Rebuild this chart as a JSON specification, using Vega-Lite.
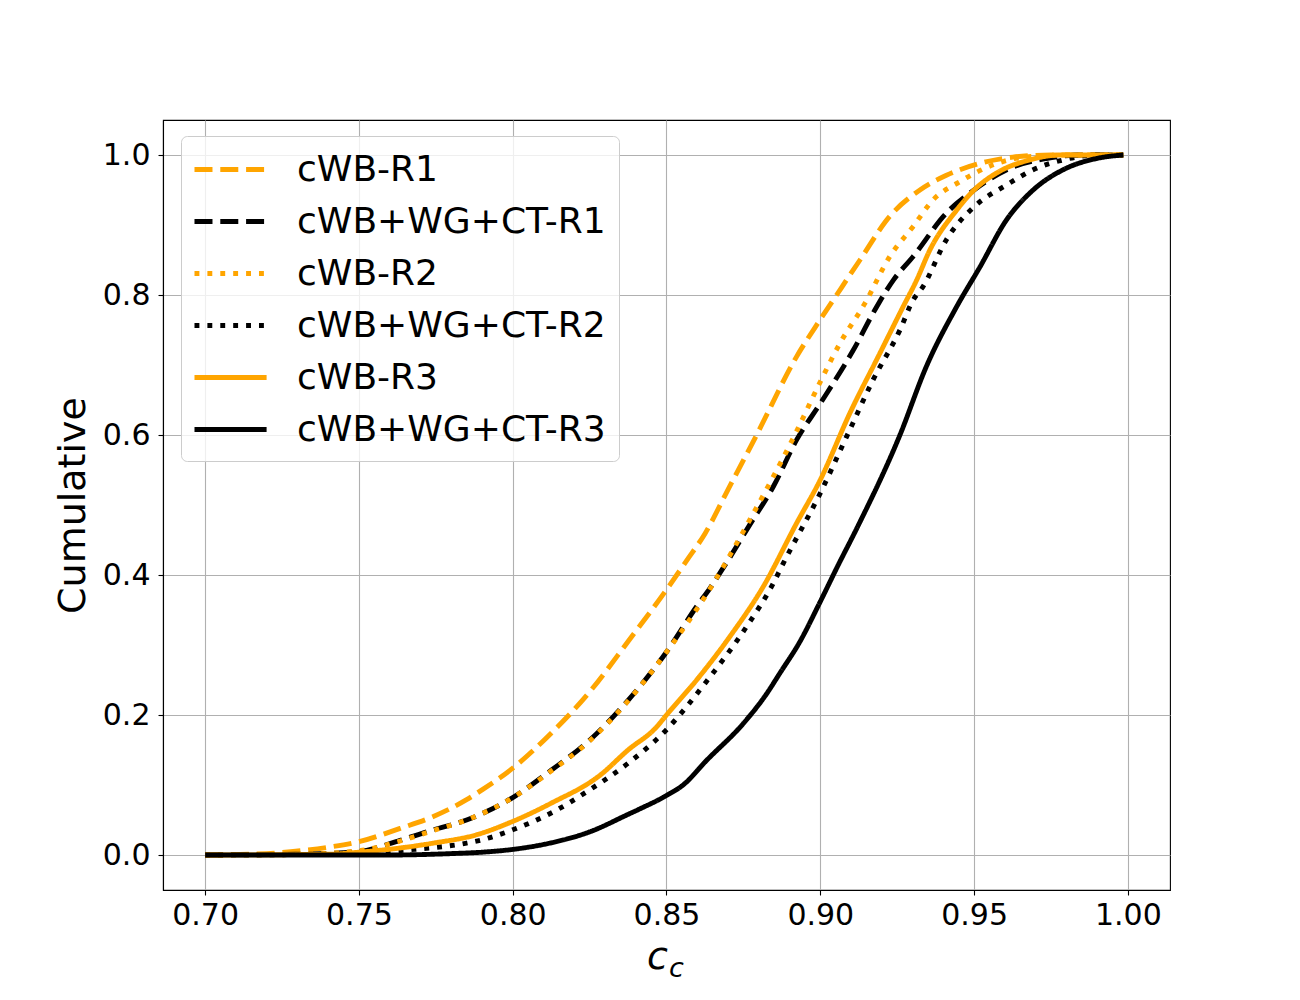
{
  "$schema": "https://vega.github.io/schema/vega-lite/v6.json",
  "description": "Cumulative distributions of c_c for cWB and cWB+WG+CT, runs R1-R3",
  "autosize": {"type": "none"},
  "width": 1007,
  "height": 770,
  "padding": {"left": 163, "top": 120, "right": 130, "bottom": 110},
  "background": "white",
  "title": {
    "text": "c",
    "orient": "bottom",
    "anchor": "middle",
    "font": "DejaVu Sans",
    "fontSize": 27,
    "fontStyle": "italic",
    "fontWeight": "normal",
    "color": "black",
    "dx": 10,
    "offset": -20
  },
  "config": {
    "font": "DejaVu Sans",
    "view": {"stroke": "black", "strokeWidth": 1.1},
    "axis": {
      "domainColor": "black",
      "domainWidth": 1.1,
      "tickColor": "black",
      "tickWidth": 1.1,
      "tickSize": 5,
      "gridColor": "#b0b0b0",
      "gridWidth": 1.1,
      "labelFont": "DejaVu Sans",
      "labelFontSize": 30,
      "labelColor": "black",
      "labelPadding": 5,
      "titleFont": "DejaVu Sans",
      "titleFontSize": 38,
      "titleFontWeight": "normal",
      "titleColor": "black"
    }
  },
  "data": {
    "values": [
      {"series": "cWB-R1", "cc": 0.700, "cum": 0.0},
      {"series": "cWB-R1", "cc": 0.720, "cum": 0.002},
      {"series": "cWB-R1", "cc": 0.731, "cum": 0.006},
      {"series": "cWB-R1", "cc": 0.740, "cum": 0.011},
      {"series": "cWB-R1", "cc": 0.750, "cum": 0.019},
      {"series": "cWB-R1", "cc": 0.7634, "cum": 0.038},
      {"series": "cWB-R1", "cc": 0.7742, "cum": 0.055},
      {"series": "cWB-R1", "cc": 0.785, "cum": 0.079},
      {"series": "cWB-R1", "cc": 0.790, "cum": 0.093},
      {"series": "cWB-R1", "cc": 0.800, "cum": 0.124},
      {"series": "cWB-R1", "cc": 0.8125, "cum": 0.174},
      {"series": "cWB-R1", "cc": 0.825, "cum": 0.233},
      {"series": "cWB-R1", "cc": 0.8375, "cum": 0.305},
      {"series": "cWB-R1", "cc": 0.850, "cum": 0.379},
      {"series": "cWB-R1", "cc": 0.8566, "cum": 0.421},
      {"series": "cWB-R1", "cc": 0.8625, "cum": 0.459},
      {"series": "cWB-R1", "cc": 0.870, "cum": 0.522},
      {"series": "cWB-R1", "cc": 0.8793, "cum": 0.600},
      {"series": "cWB-R1", "cc": 0.8923, "cum": 0.712},
      {"series": "cWB-R1", "cc": 0.900, "cum": 0.765},
      {"series": "cWB-R1", "cc": 0.9053, "cum": 0.800},
      {"series": "cWB-R1", "cc": 0.9129, "cum": 0.850},
      {"series": "cWB-R1", "cc": 0.9225, "cum": 0.912},
      {"series": "cWB-R1", "cc": 0.9324, "cum": 0.950},
      {"series": "cWB-R1", "cc": 0.941, "cum": 0.971},
      {"series": "cWB-R1", "cc": 0.9519, "cum": 0.988},
      {"series": "cWB-R1", "cc": 0.9626, "cum": 0.997},
      {"series": "cWB-R1", "cc": 0.975, "cum": 1.0},
      {"series": "cWB-R1", "cc": 0.9985, "cum": 1.0},

      {"series": "cWB+WG+CT-R1", "cc": 0.700, "cum": 0.0},
      {"series": "cWB+WG+CT-R1", "cc": 0.730, "cum": 0.001},
      {"series": "cWB+WG+CT-R1", "cc": 0.750, "cum": 0.005},
      {"series": "cWB+WG+CT-R1", "cc": 0.7634, "cum": 0.021},
      {"series": "cWB+WG+CT-R1", "cc": 0.7742, "cum": 0.036},
      {"series": "cWB+WG+CT-R1", "cc": 0.785, "cum": 0.050},
      {"series": "cWB+WG+CT-R1", "cc": 0.7915, "cum": 0.062},
      {"series": "cWB+WG+CT-R1", "cc": 0.800, "cum": 0.082},
      {"series": "cWB+WG+CT-R1", "cc": 0.8125, "cum": 0.121},
      {"series": "cWB+WG+CT-R1", "cc": 0.825, "cum": 0.164},
      {"series": "cWB+WG+CT-R1", "cc": 0.8375, "cum": 0.221},
      {"series": "cWB+WG+CT-R1", "cc": 0.850, "cum": 0.290},
      {"series": "cWB+WG+CT-R1", "cc": 0.8598, "cum": 0.355},
      {"series": "cWB+WG+CT-R1", "cc": 0.8641, "cum": 0.381},
      {"series": "cWB+WG+CT-R1", "cc": 0.869, "cum": 0.414},
      {"series": "cWB+WG+CT-R1", "cc": 0.8771, "cum": 0.472},
      {"series": "cWB+WG+CT-R1", "cc": 0.8847, "cum": 0.526},
      {"series": "cWB+WG+CT-R1", "cc": 0.8923, "cum": 0.593},
      {"series": "cWB+WG+CT-R1", "cc": 0.900, "cum": 0.645},
      {"series": "cWB+WG+CT-R1", "cc": 0.9107, "cum": 0.721},
      {"series": "cWB+WG+CT-R1", "cc": 0.9183, "cum": 0.783},
      {"series": "cWB+WG+CT-R1", "cc": 0.9237, "cum": 0.821},
      {"series": "cWB+WG+CT-R1", "cc": 0.9302, "cum": 0.855},
      {"series": "cWB+WG+CT-R1", "cc": 0.941, "cum": 0.917},
      {"series": "cWB+WG+CT-R1", "cc": 0.950, "cum": 0.950},
      {"series": "cWB+WG+CT-R1", "cc": 0.9627, "cum": 0.983},
      {"series": "cWB+WG+CT-R1", "cc": 0.9735, "cum": 0.995},
      {"series": "cWB+WG+CT-R1", "cc": 0.985, "cum": 1.0},
      {"series": "cWB+WG+CT-R1", "cc": 0.9985, "cum": 1.0},

      {"series": "cWB-R2", "cc": 0.700, "cum": 0.0},
      {"series": "cWB-R2", "cc": 0.730, "cum": 0.001},
      {"series": "cWB-R2", "cc": 0.750, "cum": 0.006},
      {"series": "cWB-R2", "cc": 0.7634, "cum": 0.020},
      {"series": "cWB-R2", "cc": 0.7742, "cum": 0.035},
      {"series": "cWB-R2", "cc": 0.785, "cum": 0.050},
      {"series": "cWB-R2", "cc": 0.800, "cum": 0.082},
      {"series": "cWB-R2", "cc": 0.8125, "cum": 0.120},
      {"series": "cWB-R2", "cc": 0.825, "cum": 0.163},
      {"series": "cWB-R2", "cc": 0.8375, "cum": 0.220},
      {"series": "cWB-R2", "cc": 0.850, "cum": 0.290},
      {"series": "cWB-R2", "cc": 0.8641, "cum": 0.380},
      {"series": "cWB-R2", "cc": 0.8771, "cum": 0.479},
      {"series": "cWB-R2", "cc": 0.8917, "cum": 0.600},
      {"series": "cWB-R2", "cc": 0.900, "cum": 0.676},
      {"series": "cWB-R2", "cc": 0.9064, "cum": 0.731},
      {"series": "cWB-R2", "cc": 0.9145, "cum": 0.788},
      {"series": "cWB-R2", "cc": 0.9226, "cum": 0.855},
      {"series": "cWB-R2", "cc": 0.9302, "cum": 0.898},
      {"series": "cWB-R2", "cc": 0.9367, "cum": 0.936},
      {"series": "cWB-R2", "cc": 0.9454, "cum": 0.962},
      {"series": "cWB-R2", "cc": 0.9562, "cum": 0.986},
      {"series": "cWB-R2", "cc": 0.9686, "cum": 0.998},
      {"series": "cWB-R2", "cc": 0.980, "cum": 1.0},
      {"series": "cWB-R2", "cc": 0.9985, "cum": 1.0},

      {"series": "cWB+WG+CT-R2", "cc": 0.700, "cum": 0.0},
      {"series": "cWB+WG+CT-R2", "cc": 0.740, "cum": 0.001},
      {"series": "cWB+WG+CT-R2", "cc": 0.7655, "cum": 0.007},
      {"series": "cWB+WG+CT-R2", "cc": 0.785, "cum": 0.017},
      {"series": "cWB+WG+CT-R2", "cc": 0.7894, "cum": 0.021},
      {"series": "cWB+WG+CT-R2", "cc": 0.800, "cum": 0.036},
      {"series": "cWB+WG+CT-R2", "cc": 0.8125, "cum": 0.060},
      {"series": "cWB+WG+CT-R2", "cc": 0.825, "cum": 0.093},
      {"series": "cWB+WG+CT-R2", "cc": 0.8375, "cum": 0.131},
      {"series": "cWB+WG+CT-R2", "cc": 0.850, "cum": 0.179},
      {"series": "cWB+WG+CT-R2", "cc": 0.863, "cum": 0.248},
      {"series": "cWB+WG+CT-R2", "cc": 0.876, "cum": 0.326},
      {"series": "cWB+WG+CT-R2", "cc": 0.8847, "cum": 0.388},
      {"series": "cWB+WG+CT-R2", "cc": 0.888, "cum": 0.417},
      {"series": "cWB+WG+CT-R2", "cc": 0.900, "cum": 0.517},
      {"series": "cWB+WG+CT-R2", "cc": 0.9086, "cum": 0.598},
      {"series": "cWB+WG+CT-R2", "cc": 0.9172, "cum": 0.679},
      {"series": "cWB+WG+CT-R2", "cc": 0.9259, "cum": 0.750},
      {"series": "cWB+WG+CT-R2", "cc": 0.9302, "cum": 0.793},
      {"series": "cWB+WG+CT-R2", "cc": 0.9334, "cum": 0.812},
      {"series": "cWB+WG+CT-R2", "cc": 0.941, "cum": 0.879},
      {"series": "cWB+WG+CT-R2", "cc": 0.950, "cum": 0.926},
      {"series": "cWB+WG+CT-R2", "cc": 0.9605, "cum": 0.957},
      {"series": "cWB+WG+CT-R2", "cc": 0.9692, "cum": 0.979},
      {"series": "cWB+WG+CT-R2", "cc": 0.979, "cum": 0.993},
      {"series": "cWB+WG+CT-R2", "cc": 0.990, "cum": 1.0},
      {"series": "cWB+WG+CT-R2", "cc": 0.9985, "cum": 1.0},

      {"series": "cWB-R3", "cc": 0.700, "cum": 0.0},
      {"series": "cWB-R3", "cc": 0.740, "cum": 0.001},
      {"series": "cWB-R3", "cc": 0.750, "cum": 0.004},
      {"series": "cWB-R3", "cc": 0.7634, "cum": 0.010},
      {"series": "cWB-R3", "cc": 0.7742, "cum": 0.017},
      {"series": "cWB-R3", "cc": 0.7883, "cum": 0.029},
      {"series": "cWB-R3", "cc": 0.800, "cum": 0.048},
      {"series": "cWB-R3", "cc": 0.8125, "cum": 0.074},
      {"series": "cWB-R3", "cc": 0.8284, "cum": 0.114},
      {"series": "cWB-R3", "cc": 0.8375, "cum": 0.150},
      {"series": "cWB-R3", "cc": 0.8468, "cum": 0.183},
      {"series": "cWB-R3", "cc": 0.850, "cum": 0.200},
      {"series": "cWB-R3", "cc": 0.8598, "cum": 0.250},
      {"series": "cWB-R3", "cc": 0.8706, "cum": 0.312},
      {"series": "cWB-R3", "cc": 0.8814, "cum": 0.383},
      {"series": "cWB-R3", "cc": 0.8923, "cum": 0.474},
      {"series": "cWB-R3", "cc": 0.900, "cum": 0.536},
      {"series": "cWB-R3", "cc": 0.9096, "cum": 0.631},
      {"series": "cWB-R3", "cc": 0.9194, "cum": 0.717},
      {"series": "cWB-R3", "cc": 0.9269, "cum": 0.783},
      {"series": "cWB-R3", "cc": 0.9313, "cum": 0.821},
      {"series": "cWB-R3", "cc": 0.9356, "cum": 0.864},
      {"series": "cWB-R3", "cc": 0.9443, "cum": 0.921},
      {"series": "cWB-R3", "cc": 0.950, "cum": 0.950},
      {"series": "cWB-R3", "cc": 0.9572, "cum": 0.974},
      {"series": "cWB-R3", "cc": 0.9681, "cum": 0.993},
      {"series": "cWB-R3", "cc": 0.978, "cum": 1.0},
      {"series": "cWB-R3", "cc": 0.9985, "cum": 1.0},

      {"series": "cWB+WG+CT-R3", "cc": 0.700, "cum": 0.0},
      {"series": "cWB+WG+CT-R3", "cc": 0.760, "cum": 0.0},
      {"series": "cWB+WG+CT-R3", "cc": 0.780, "cum": 0.002},
      {"series": "cWB+WG+CT-R3", "cc": 0.790, "cum": 0.004},
      {"series": "cWB+WG+CT-R3", "cc": 0.800, "cum": 0.008},
      {"series": "cWB+WG+CT-R3", "cc": 0.8121, "cum": 0.017},
      {"series": "cWB+WG+CT-R3", "cc": 0.825, "cum": 0.033},
      {"series": "cWB+WG+CT-R3", "cc": 0.8375, "cum": 0.058},
      {"series": "cWB+WG+CT-R3", "cc": 0.8414, "cum": 0.066},
      {"series": "cWB+WG+CT-R3", "cc": 0.850, "cum": 0.085},
      {"series": "cWB+WG+CT-R3", "cc": 0.8554, "cum": 0.100},
      {"series": "cWB+WG+CT-R3", "cc": 0.863, "cum": 0.135},
      {"series": "cWB+WG+CT-R3", "cc": 0.875, "cum": 0.188},
      {"series": "cWB+WG+CT-R3", "cc": 0.8825, "cum": 0.230},
      {"series": "cWB+WG+CT-R3", "cc": 0.8869, "cum": 0.260},
      {"series": "cWB+WG+CT-R3", "cc": 0.8934, "cum": 0.305},
      {"series": "cWB+WG+CT-R3", "cc": 0.900, "cum": 0.362},
      {"series": "cWB+WG+CT-R3", "cc": 0.9058, "cum": 0.414},
      {"series": "cWB+WG+CT-R3", "cc": 0.9118, "cum": 0.466},
      {"series": "cWB+WG+CT-R3", "cc": 0.9259, "cum": 0.600},
      {"series": "cWB+WG+CT-R3", "cc": 0.9345, "cum": 0.698},
      {"series": "cWB+WG+CT-R3", "cc": 0.9443, "cum": 0.783},
      {"series": "cWB+WG+CT-R3", "cc": 0.9519, "cum": 0.840},
      {"series": "cWB+WG+CT-R3", "cc": 0.9605, "cum": 0.907},
      {"series": "cWB+WG+CT-R3", "cc": 0.9692, "cum": 0.950},
      {"series": "cWB+WG+CT-R3", "cc": 0.979, "cum": 0.979},
      {"series": "cWB+WG+CT-R3", "cc": 0.9898, "cum": 0.995},
      {"series": "cWB+WG+CT-R3", "cc": 0.9985, "cum": 1.0}
    ]
  },
  "mark": {"type": "line", "strokeWidth": 4.9, "strokeCap": "butt", "interpolate": "monotone", "clip": true},
  "encoding": {
    "x": {
      "field": "cc",
      "type": "quantitative",
      "scale": {"domain": [0.6863, 1.0137], "nice": false, "zero": false},
      "axis": {
        "values": [0.7, 0.75, 0.8, 0.85, 0.9, 0.95, 1.0],
        "format": ".2f",
        "title": "c",
        "titleFontStyle": "italic",
        "titleX": 494,
        "titleY": 78,
        "titleBaseline": "alphabetic",
        "titleAnchor": "middle"
      }
    },
    "y": {
      "field": "cum",
      "type": "quantitative",
      "scale": {"domain": [-0.05, 1.05], "nice": false, "zero": false},
      "axis": {
        "values": [0, 0.2, 0.4, 0.6, 0.8, 1.0],
        "format": ".1f",
        "title": "Cumulative",
        "labelPadding": 8,
        "titlePadding": 10
      }
    },
    "color": {
      "field": "series",
      "type": "nominal",
      "scale": {
        "domain": ["cWB-R1", "cWB+WG+CT-R1", "cWB-R2", "cWB+WG+CT-R2", "cWB-R3", "cWB+WG+CT-R3"],
        "range": ["#ffa500", "#000000", "#ffa500", "#000000", "#ffa500", "#000000"]
      },
      "legend": {
        "title": null,
        "orient": "none",
        "legendX": 18,
        "legendY": 16,
        "symbolType": "M-1.11,0H2.89",
        "symbolSize": 1300,
        "symbolStrokeWidth": 4.9,
        "labelFont": "DejaVu Sans",
        "labelFontSize": 36,
        "labelColor": "black",
        "labelLimit": 500,
        "labelOffset": 62,
        "rowPadding": 13,
        "padding": 13,
        "fillColor": "rgba(255,255,255,0.8)",
        "strokeColor": "#cccccc",
        "cornerRadius": 6
      }
    },
    "strokeDash": {
      "field": "series",
      "type": "nominal",
      "scale": {
        "domain": ["cWB-R1", "cWB+WG+CT-R1", "cWB-R2", "cWB+WG+CT-R2", "cWB-R3", "cWB+WG+CT-R3"],
        "range": [[18, 7.8], [18, 7.8], [4.9, 8], [4.9, 8], [1, 0], [1, 0]]
      },
      "legend": null
    }
  }
}
